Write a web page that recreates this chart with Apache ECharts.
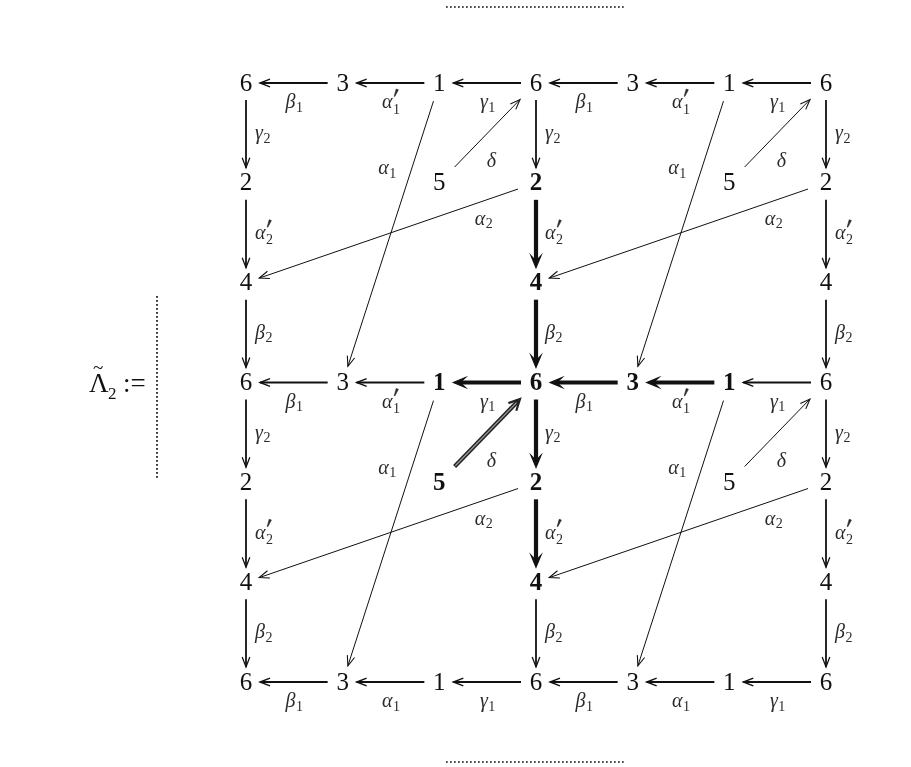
<!DOCTYPE html>
<html><head><meta charset="utf-8">
<script src="https://cdn.jsdelivr.net/npm/echarts@6/dist/echarts.min.js"></script>
<style>html,body{margin:0;padding:0;background:#fff}#c{width:911px;height:767px}</style>
</head><body><div id="c"></div>
<script>
// ---- data: nodes [col, row, label, bold]
const nodes = [
  [0,0,'6',0],[1,0,'3',0],[2,0,'1',0],[3,0,'6',0],[4,0,'3',0],[5,0,'1',0],[6,0,'6',0],
  [0,1,'2',0],[2,1,'5',0],[3,1,'2',1],[5,1,'5',0],[6,1,'2',0],
  [0,2,'4',0],[3,2,'4',1],[6,2,'4',0],
  [0,3,'6',0],[1,3,'3',0],[2,3,'1',1],[3,3,'6',1],[4,3,'3',1],[5,3,'1',1],[6,3,'6',0],
  [0,4,'2',0],[2,4,'5',1],[3,4,'2',1],[5,4,'5',0],[6,4,'2',0],
  [0,5,'4',0],[3,5,'4',1],[6,5,'4',0],
  [0,6,'6',0],[1,6,'3',0],[2,6,'1',0],[3,6,'6',0],[4,6,'3',0],[5,6,'1',0],[6,6,'6',0]
];
// ---- horizontal arrows [fromCol,fromRow,toCol,toRow,label,bold]
const rowArrows = [
  [1,0,0,0,'β1',0],[2,0,1,0,"α1'",0],[3,0,2,0,'γ1',0],[4,0,3,0,'β1',0],[5,0,4,0,"α1'",0],[6,0,5,0,'γ1',0],
  [1,3,0,3,'β1',0],[2,3,1,3,"α1'",0],[3,3,2,3,'γ1',1],[4,3,3,3,'β1',1],[5,3,4,3,"α1'",1],[6,3,5,3,'γ1',0],
  [1,6,0,6,'β1',0],[2,6,1,6,'α1',0],[3,6,2,6,'γ1',0],[4,6,3,6,'β1',0],[5,6,4,6,'α1',0],[6,6,5,6,'γ1',0]
];
// ---- vertical arrows
const colArrows = [
  [0,0,0,1,'γ2',0],[0,1,0,2,"α2'",0],[0,2,0,3,'β2',0],[0,3,0,4,'γ2',0],[0,4,0,5,"α2'",0],[0,5,0,6,'β2',0],
  [3,0,3,1,'γ2',0],[3,1,3,2,"α2'",1],[3,2,3,3,'β2',1],[3,3,3,4,'γ2',1],[3,4,3,5,"α2'",1],[3,5,3,6,'β2',0],
  [6,0,6,1,'γ2',0],[6,1,6,2,"α2'",0],[6,2,6,3,'β2',0],[6,3,6,4,'γ2',0],[6,4,6,5,"α2'",0],[6,5,6,6,'β2',0]
];
// ---- diagonal arrows [fromCol,fromRow,toCol,toRow,label,kind,bold(2=double)]
const diagArrows = [
  [2,0,1,3,'α1','a1',0],[2,1,3,0,'δ','d',0],[3,1,0,2,'α2','a2',0],
  [5,0,4,3,'α1','a1',0],[5,1,6,0,'δ','d',0],[6,1,3,2,'α2','a2',0],
  [2,3,1,6,'α1','a1',0],[2,4,3,3,'δ','d',2],[3,4,0,5,'α2','a2',0],
  [5,3,4,6,'α1','a1',0],[5,4,6,3,'δ','d',0],[6,4,3,5,'α2','a2',0]
];

const edges = []
  .concat(rowArrows.map(a => [a[0],a[1],a[2],a[3],a[4],'h',a[5]]))
  .concat(colArrows.map(a => [a[0],a[1],a[2],a[3],a[4],'v',a[5]]))
  .concat(diagArrows);

// ---- styles per kind
const kindStyle = {
  h:  {g0:15, g1:14, w:2.0, t:0.5,  dx:0,   dy:20,  left:false},
  v:  {g0:17, g1:15, w:1.8, t:0.5,  dx:9,   dy:1,   left:true},
  a1: {g0:19, g1:17, w:1.0, t:0.29, dx:-24, dy:-1,  left:false},
  d:  {g0:22, g1:23, w:1.0, t:0.5,  dx:4,   dy:29,  left:false},
  a2: {g0:19, g1:14, w:1.0, t:0.18, dx:0,   dy:19,  left:false}
};
const INK = '#111';
const LBL = '#2a2a2a';
const GREEK_FONT = 'italic 20px "Liberation Serif", "DejaVu Serif", serif';
const SUB_FONT = '14px "Liberation Serif", "DejaVu Serif", serif';

const mctx = document.createElement('canvas').getContext('2d');
function textW(txt, font) { mctx.font = font; return mctx.measureText(txt).width; }

function labelEls(label, ax, ay, leftAligned) {
  const g = label[0];
  const sub = label.replace(/[^0-9]/g, '');
  const prime = label.indexOf("'") >= 0;
  const gw = textW(g, GREEK_FONT) + 0.5;
  const sw = sub ? textW(sub, SUB_FONT) : 0;
  const total = gw + sw;
  const gx = leftAligned ? ax : ax - total / 2;
  const els = [{type:'text', style:{text:g, x:gx, y:ay, font:GREEK_FONT, fill:LBL, align:'left', verticalAlign:'middle'}}];
  if (sub) els.push({type:'text', style:{text:sub, x:gx+gw, y:ay + (prime?7:5), font:SUB_FONT, fill:LBL, align:'left', verticalAlign:'middle'}});
  if (prime) els.push({type:'polygon', shape:{points:[[gx+gw+3.2, ay-14],[gx+gw+5.4, ay-13.2],[gx+gw+1.8, ay-6.5],[gx+gw+1.2, ay-6.8]]},
                       style:{fill:LBL, stroke:LBL, lineWidth:0.6}});
  return els;
}

function renderEdge(params, api) {
  const e = edges[params.dataIndex];
  const ks = kindStyle[e[5]];
  const bold = e[6];
  const p1 = api.coord([api.value(0), api.value(1)]);
  const p2 = api.coord([api.value(2), api.value(3)]);
  const dx = p2[0]-p1[0], dy = p2[1]-p1[1];
  const len = Math.hypot(dx, dy);
  const ux = dx/len, uy = dy/len, nx = -uy, ny = ux;
  const s = [p1[0]+ux*ks.g0, p1[1]+uy*ks.g0];
  const t = [p2[0]-ux*ks.g1, p2[1]-uy*ks.g1];
  const ch = [];
  if (bold === 2) {
    ch.push({type:'line', shape:{x1:s[0],y1:s[1],x2:t[0]-ux*2,y2:t[1]-uy*2}, style:{stroke:'#222', lineWidth:4.2}});
    ch.push({type:'line', shape:{x1:s[0]+ux*1,y1:s[1]+uy*1,x2:t[0]-ux*5,y2:t[1]-uy*5}, style:{stroke:'#9a9a9a', lineWidth:1.3}});
    const L = 11, W = 5.5;
    ch.push({type:'polyline', shape:{points:[[t[0]-L*ux+W*nx, t[1]-L*uy+W*ny],[t[0],t[1]],[t[0]-L*ux-W*nx, t[1]-L*uy-W*ny]]}, style:{stroke:'#222', lineWidth:2.2, fill:null}});
  } else if (bold === 1) {
    const L = 12, W = 5;
    ch.push({type:'line', shape:{x1:s[0],y1:s[1],x2:t[0]-ux*6,y2:t[1]-uy*6}, style:{stroke:INK, lineWidth:4.2}});
    ch.push({type:'polygon', shape:{points:[[t[0],t[1]],[t[0]-L*ux+W*nx, t[1]-L*uy+W*ny],[t[0]-0.55*L*ux, t[1]-0.55*L*uy],[t[0]-L*ux-W*nx, t[1]-L*uy-W*ny]]}, style:{fill:INK, stroke:INK, lineWidth:1.2}});
  } else {
    const L = 10, W = 3.8;
    ch.push({type:'line', shape:{x1:s[0],y1:s[1],x2:t[0],y2:t[1]}, style:{stroke:INK, lineWidth:ks.w}});
    ch.push({type:'polyline', shape:{points:[[t[0]-L*ux+W*nx, t[1]-L*uy+W*ny],[t[0],t[1]],[t[0]-L*ux-W*nx, t[1]-L*uy-W*ny]]}, style:{stroke:INK, lineWidth:Math.max(ks.w*0.7,1.1), fill:null}});
  }
  const ax = p1[0] + dx*ks.t + ks.dx;
  const ay = p1[1] + dy*ks.t + ks.dy;
  labelEls(e[4], ax, ay, ks.left).forEach(x => ch.push(x));
  return {type:'group', children:ch};
}

function renderNode(params, api) {
  const n = nodes[params.dataIndex];
  const p = api.coord([api.value(0), api.value(1)]);
  return {type:'text', style:{text:n[2], x:p[0], y:p[1]+1,
    font:(n[3]?'bold ':'') + '25px "Liberation Serif", "DejaVu Serif", serif',
    fill:INK, align:'center', verticalAlign:'middle'}};
}

const chart = echarts.init(document.getElementById('c'), null, {renderer:'canvas'});
chart.setOption({
  animation:false,
  backgroundColor:'#fff',
  grid:{left:246, top:83, width:580, height:599},
  xAxis:{type:'value', min:0, max:6, show:false},
  yAxis:{type:'value', min:0, max:6, inverse:true, show:false},
  graphic:[
    {type:'line', shape:{x1:446,y1:7,x2:626,y2:7}, style:{stroke:'#111', lineWidth:1.7, lineDash:[1.7,2.3]}},
    {type:'line', shape:{x1:446,y1:762,x2:626,y2:762}, style:{stroke:'#111', lineWidth:1.7, lineDash:[1.7,2.3]}},
    {type:'line', shape:{x1:157,y1:296,x2:157,y2:480}, style:{stroke:'#111', lineWidth:1.7, lineDash:[1.7,2.3]}},
    {type:'group', left:89, top:360, children:[
      {type:'text', x:0, y:6, style:{text:'Λ', font:'27px "Liberation Serif", "DejaVu Serif", serif', fill:INK}},
      {type:'text', x:4, y:-5, style:{text:'~', font:'19px "Liberation Serif", "DejaVu Serif", serif', fill:INK}},
      {type:'text', x:19, y:21, style:{text:'2', font:'17px "Liberation Serif", "DejaVu Serif", serif', fill:INK}},
      {type:'text', x:34, y:6, style:{text:':=', font:'27px "Liberation Serif", "DejaVu Serif", serif', fill:INK}}
    ]}
  ],
  series:[
    {type:'custom', coordinateSystem:'cartesian2d', clip:false, silent:true,
     encode:{x:[0,2], y:[1,3]},
     data:edges.map(e => [e[0],e[1],e[2],e[3]]), renderItem:renderEdge},
    {type:'custom', coordinateSystem:'cartesian2d', clip:false, silent:true,
     encode:{x:0, y:1},
     data:nodes.map(n => [n[0],n[1]]), renderItem:renderNode}
  ]
});
</script>
</body></html>
